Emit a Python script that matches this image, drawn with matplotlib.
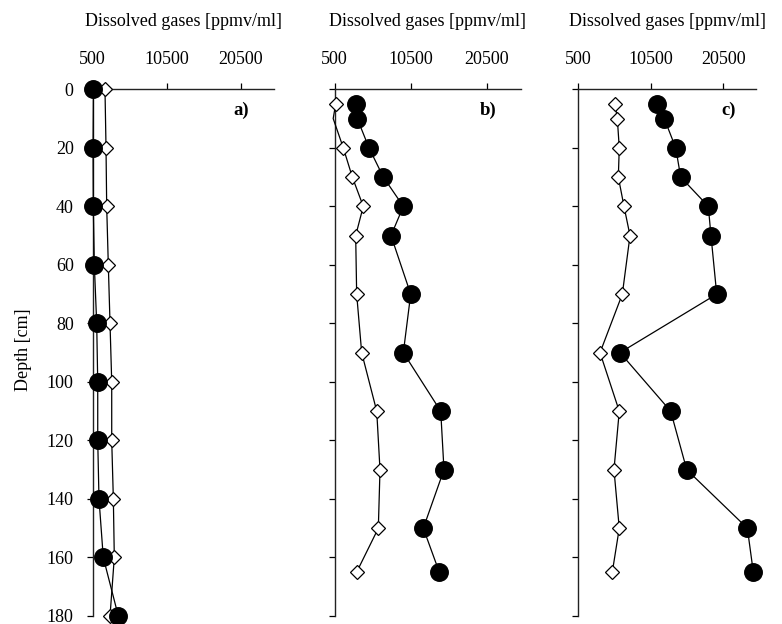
import numpy as np
import matplotlib
matplotlib.use("Agg")
import matplotlib.pyplot as plt

plt.rcParams['font.family'] = ['Liberation Serif', 'DejaVu Serif']

# Sampling depths [cm]
depth_a = [0, 20, 40, 60, 80, 100, 120, 140, 160, 180]
depth_bc = [5, 10, 20, 30, 40, 50, 70, 90, 110, 130, 150, 165]

# Dissolved gas concentrations [ppmv/ml]
a_circle = [600, 550, 580, 720, 1040, 1180, 1180, 1350, 1930, 3960]
a_diamond = [2160, 2300, 2390, 2610, 2840, 3070, 3070, 3290, 3420, 2840]

b_circle = [3260, 3470, 5010, 6900, 9530, 7910, 10500, 9530, 14450, 14880, 12160, 14260]
b_diamond = [630, 300, 1630, 2820, 4260, 3260, 3390, 4050, 6030, 6460, 6240, 3390]

c_circle = [11410, 12370, 13940, 14630, 18430, 18800, 19590, 6270, 13250, 15460, 23810, 24630]
c_diamond = [5580, 5900, 6170, 6040, 6820, 7650, 6590, 3520, 6170, 5440, 6170, 5210]

x_ticks = [500, 10500, 20500]
y_ticks = [0, 20, 40, 60, 80, 100, 120, 140, 160, 180]
x_min, x_max = 500, 25000
panel_labels = ["a)", "b)", "c)"]

W, H = 782, 624
fig = plt.figure(figsize=(W / 100, H / 100), dpi=100)

lefts = [92.7, 334.7, 578.1]
widths = [181.3, 186.2, 177.9]
top_px, bot_px = 89.3, 616.0

panels = [
    (depth_a, a_circle, depth_a, a_diamond),
    (depth_bc, b_circle, depth_bc, b_diamond),
    (depth_bc, c_circle, depth_bc, c_diamond),
]

FS = 13.0
for i, (dc, vc, dd, vd) in enumerate(panels):
    ax = fig.add_axes([lefts[i] / W, 1 - bot_px / H, widths[i] / W, (bot_px - top_px) / H])
    # diamonds: points below the axis minimum are joined by the line but carry no marker
    vis = [k for k, v in enumerate(vd) if v >= x_min]
    ax.plot(vd, dd, color='black', lw=0.9, marker='D', markersize=6.8,
            markerfacecolor='white', markeredgecolor='black', markeredgewidth=0.9,
            markevery=vis, clip_on=False, zorder=3)
    ax.plot(vc, dc, color='black', lw=0.9, marker='o', markersize=12.6,
            markerfacecolor='black', markeredgecolor='black', clip_on=False, zorder=4)

    ax.set_xlim(x_min, x_max)
    ax.set_ylim(180, 0)
    ax.xaxis.tick_top()
    ax.set_xticks(x_ticks)
    ax.set_xticklabels([str(t) for t in x_ticks], fontsize=FS)
    ax.set_yticks(y_ticks)
    if i == 0:
        ax.set_yticklabels([str(t) for t in y_ticks], fontsize=FS)
    else:
        ax.set_yticklabels([])
    ax.tick_params(axis='x', direction='out', length=4.3, width=0.9, pad=11.2)
    ax.tick_params(axis='y', direction='out', length=4.3, width=0.9, pad=9.4)
    for s in ['right', 'bottom']:
        ax.spines[s].set_visible(False)
    for s in ['left', 'top']:
        ax.spines[s].set_linewidth(1.0)
        ax.spines[s].set_color('#222222')
    ax.text(0.5, 1 + 67.6 / (bot_px - top_px), "Dissolved gases [ppmv/ml]",
            transform=ax.transAxes, ha='center', va='center', fontsize=FS)
    lx = [0.82, 0.826, 0.844][i]
    ax.text(lx, 1 - 20.7 / (bot_px - top_px), panel_labels[i], transform=ax.transAxes,
            ha='center', va='center', fontsize=FS + 0.5, fontweight='bold')

fig.text(23 / W, 1 - 350 / H, "Depth [cm]", rotation=90, ha='center', va='center', fontsize=FS)

fig.savefig("out.png", dpi=100)
